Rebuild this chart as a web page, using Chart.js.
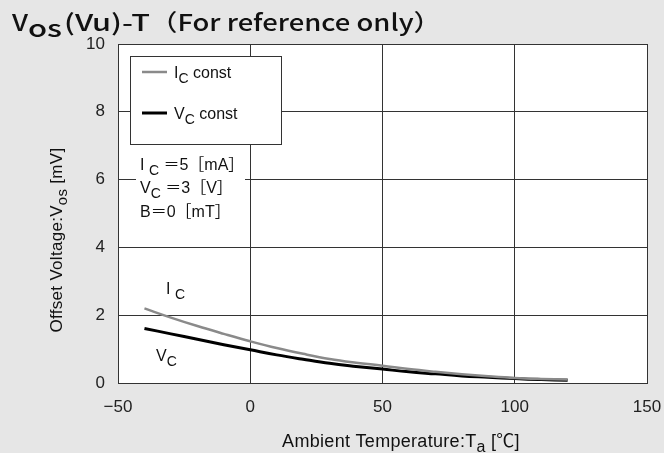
<!DOCTYPE html>
<html><head><meta charset="utf-8">
<script src="https://cdn.jsdelivr.net/npm/chart.js@4/dist/chart.umd.min.js"></script>
<style>html,body{margin:0;padding:0;background:#e6e6e6;}#wrap{width:664px;height:453px;position:relative;}</style>
</head><body><div id="wrap"><canvas id="c" width="664" height="453"></canvas></div>
<script>
const temps = [-40,-30,-20,-10,0,10,20,30,40,50,60,70,80,90,100,110,120];
const icConst = [2.20,1.93,1.68,1.45,1.23,1.03,0.86,0.71,0.60,0.51,0.41,0.33,0.26,0.20,0.15,0.12,0.10];
const vcConst = [1.61,1.45,1.29,1.13,0.98,0.83,0.70,0.58,0.49,0.41,0.33,0.27,0.21,0.17,0.13,0.10,0.08];
const xTicks = [-50,0,50,100,150];
const yTicks = [0,2,4,6,8,10];
const seriesNames = ['I|C| const','V|C| const'];

const SANS = '"Liberation Sans", "Noto Sans CJK JP", sans-serif';
const JP = '"Noto Sans CJK JP", sans-serif';
function drawSeg(ctx, x, y, segs, size, font, align){
  let w = 0;
  const subSz = Math.round(size*0.9);
  segs.forEach(s=>{ctx.font=(s[1]?subSz:size)+'px '+font; w+=ctx.measureText(s[0]).width;});
  let cx = align==='center'? x-w/2 : x;
  segs.forEach(s=>{
    ctx.font = (s[1]?subSz:size)+'px '+font;
    ctx.fillText(s[0], cx, y + (s[1]? size*0.3:0));
    cx += ctx.measureText(s[0]).width;
  });
  return w;
}
function fitText(ctx, txt, x0, x1, y, font){
  ctx.font = font;
  const w = ctx.measureText(txt).width;
  ctx.save(); ctx.translate(x0, y); ctx.scale((x1-x0)/w, 1);
  ctx.fillText(txt, 0, 0); ctx.restore();
}
const extras = {
  id:'extras',
  afterDraw(chart){
    const ctx = chart.ctx;
    ctx.save();
    ctx.fillStyle='#111'; ctx.textBaseline='alphabetic'; ctx.textAlign='left';
    // title
    fitText(ctx,'V',12,28,31,'500 23px '+JP);
    fitText(ctx,'os',28,62,37,'500 23px '+JP);
    fitText(ctx,'(Vu)-T',64,150,31,'500 23px '+JP);
    fitText(ctx,'（For reference only）',150,441,31,'500 23px '+JP);
    // legend box
    ctx.fillStyle='#fff'; ctx.fillRect(130,56,152,89);
    ctx.strokeStyle='#333'; ctx.lineWidth=1; ctx.strokeRect(130.5,56.5,151,88);
    const ds = chart.data.datasets;
    [[72,78],[113,119]].forEach((p,i)=>{
      ctx.strokeStyle=ds[i].borderColor; ctx.lineWidth=ds[i].borderWidth;
      ctx.beginPath(); ctx.moveTo(142,p[0]); ctx.lineTo(167,p[0]); ctx.stroke();
      ctx.fillStyle='#111';
      const parts = seriesNames[i].split('|');
      drawSeg(ctx,174,p[1],[[parts[0],0],[parts[1],1],[parts[2],0]],16,SANS,'left');
    });
    // condition text
    ctx.fillStyle='#fff'; ctx.fillRect(136,152,109,70);
    ctx.fillStyle='#111';
    drawSeg(ctx,140,170,[['I ',0],['C',1],[' ＝5［mA］',0]],16,SANS,'left');
    drawSeg(ctx,140,193,[['V',0],['C',1],[' ＝3［V］',0]],16,SANS,'left');
    drawSeg(ctx,140,217,[['B＝0［mT］',0]],16,SANS,'left');
    // curve labels
    drawSeg(ctx,166,294,[['I ',0],['C',1]],16,SANS,'left');
    drawSeg(ctx,156,361,[['V',0],['C',1]],16,SANS,'left');
    // axis titles
    ctx.letterSpacing='0.3px';
    drawSeg(ctx,401,447,[['Ambient Temperature:T',0],['a',1],[' [℃]',0]],18,SANS,'center');
    ctx.save(); ctx.translate(62,240); ctx.rotate(-Math.PI/2);
    drawSeg(ctx,0,0,[['Offset Voltage:V',0],['os',1],[' [mV]',0]],17,SANS,'center');
    ctx.restore();
    ctx.letterSpacing='0px';
    ctx.restore();
  }
};
new Chart(document.getElementById('c'),{
  type:'line',
  data:{datasets:[
    {label:'Ic const',data:temps.map((t,i)=>({x:t,y:icConst[i]})),borderColor:'#8a8a8a',borderWidth:2.5,pointRadius:0,tension:0.4,fill:false},
    {label:'Vc const',data:temps.map((t,i)=>({x:t,y:vcConst[i]})),borderColor:'#000',borderWidth:3,pointRadius:0,tension:0.4,fill:false}
  ]},
  options:{
    responsive:false,animation:false,
    layout:{padding:{top:44,right:17,left:0,bottom:0}},
    plugins:{legend:{display:false},tooltip:{enabled:false}},
    scales:{
      x:{type:'linear',min:-50,max:150,
        afterBuildTicks(s){s.ticks=xTicks.map(v=>({value:v}));},
        afterFit(s){s.height=70;s.paddingRight=0;s.paddingLeft=0;},
        grid:{color:'#333',lineWidth:1,drawTicks:false},
        border:{color:'#333',width:1},
        ticks:{padding:14,color:'#222',font:{size:17,family:SANS},callback:v=>v<0?'−'+Math.abs(v):v}},
      y:{type:'linear',min:0,max:10,
        afterBuildTicks(s){s.ticks=yTicks.map(v=>({value:v}));},
        afterFit(s){s.width=118;s.paddingTop=0;s.paddingBottom=0;},
        grid:{color:'#333',lineWidth:1,drawTicks:false},
        border:{color:'#333',width:1},
        ticks:{padding:13,color:'#222',font:{size:17,family:SANS}}}
    }
  },
  plugins:[{id:'bg',beforeDraw(c){const a=c.chartArea,ctx=c.ctx;ctx.save();ctx.fillStyle='#e6e6e6';ctx.fillRect(0,0,c.width,c.height);ctx.fillStyle='#fff';ctx.fillRect(a.left,a.top,a.right-a.left,a.bottom-a.top);ctx.restore();}},extras]
});
</script></body></html>
